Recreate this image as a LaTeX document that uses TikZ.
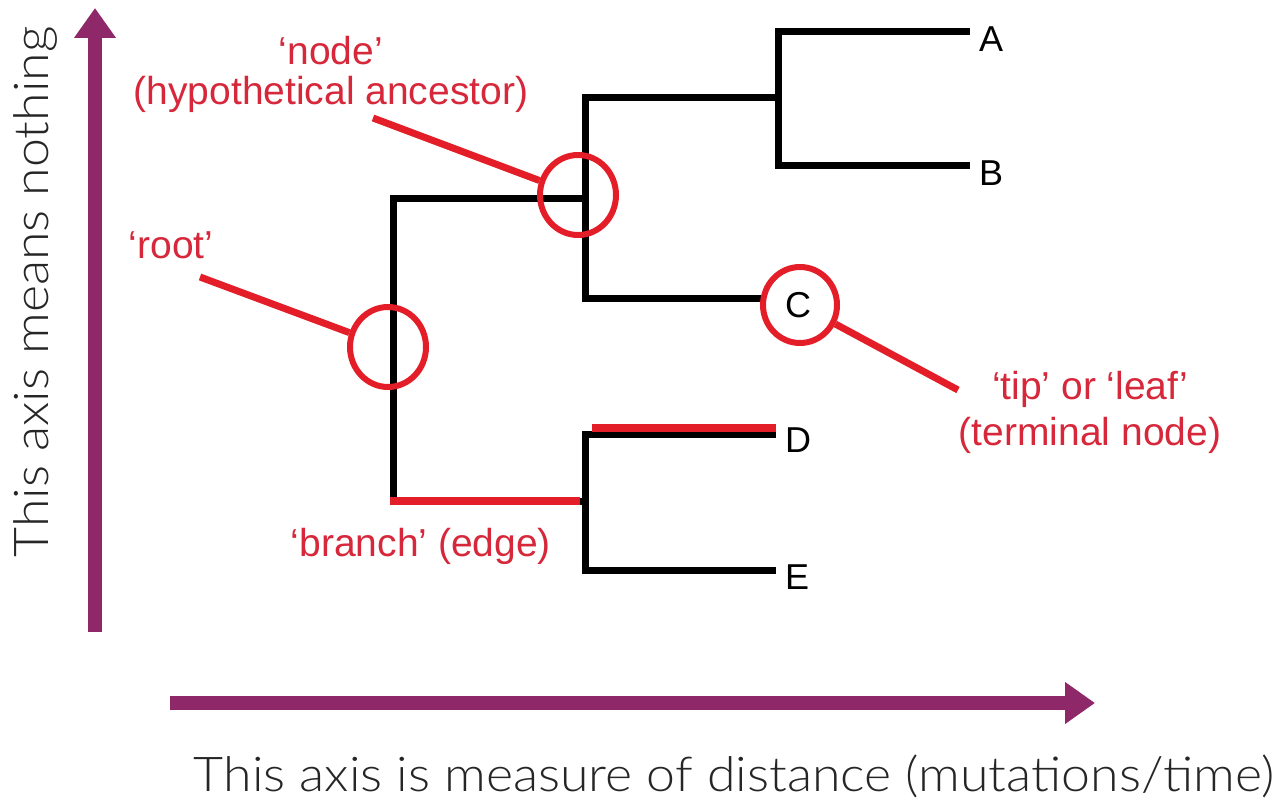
\documentclass[tikz,border=0pt]{standalone}
\usepackage{fontspec}
\setmainfont{Liberation Sans}
\newfontfamily\axisfont{Lato Light}[FakeStretch=1.08]
\usetikzlibrary{arrows.meta,shapes.geometric}
\definecolor{plum}{RGB}{142,40,104}
\definecolor{mark}{RGB}{228,30,40}
\definecolor{marktext}{RGB}{214,40,58}

\begin{document}
\begin{tikzpicture}[x=1pt,y=-1pt,
  br/.style={line width=7pt,line join=miter,line cap=butt,draw=black},%
  rb/.style={line width=8pt,draw=mark},%
  ring/.style={ellipse,draw=mark,line width=6pt,minimum width=76pt,minimum height=80pt},%
  callout/.style={line width=7pt,draw=mark},%
  lbl/.style={text=marktext,font=\fontsize{39}{40}\selectfont,align=center,inner sep=0pt},%
  leaf/.style={font=\fontsize{36}{37}\selectfont,anchor=north west,inner sep=0pt},%
  ax/.style={draw=plum,line width=14pt,-{Triangle[width=40pt,length=30pt]}},%
  axtext/.style={font=\axisfont\fontsize{48}{50}\selectfont,text=black!85,inner sep=0pt}
  ]
  \useasboundingbox (0,0) rectangle (1284,802);
  % axes
  \coordinate (yfoot) at (95,632);
  \coordinate (ytip) at (95,8);
  \coordinate (xfoot) at (170,703);
  \coordinate (xtip) at (1095,703);
  \draw [ax] (yfoot) -- (ytip);
  \draw [ax] (xfoot) -- (xtip);
  \node (ylab) [axtext,rotate=90] at (35,292) {This axis means nothing};
  \node (xlab) [axtext] at (734,776) {This axis is measure of distance (mutations/time)};
  % tree
  \coordinate (top) at (393,199);
  \coordinate (bot) at (393,501);
  \coordinate (n1) at (585,199);
  \coordinate (n2) at (778,98);
  \coordinate (n3) at (585,501);
  \coordinate (ta) at (970,32);
  \coordinate (tb) at (970,166);
  \coordinate (tc) at (766,298);
  \coordinate (td) at (776,434);
  \coordinate (te) at (776,570);
  \draw [br] (n1) -- (top) -- (bot) -- (n3);
  \draw [br] (n2) |- (ta);
  \draw [br] (n2) |- (tb);
  \draw [br] (n2) -- (585,98) |- (tc);
  \draw [br] (td) -| (n3) |- (te);
  \node (A) [leaf,xshift=9pt,yshift=5pt] at (ta) {A};
  \node (B) [leaf,xshift=9pt,yshift=5pt] at (tb) {B};
  \node (C) [leaf,xshift=19pt,yshift=6pt] at (tc) {C};
  \node (D) [leaf,xshift=9pt,yshift=6pt] at (td) {D};
  \node (E) [leaf,xshift=9pt,yshift=5pt] at (te) {E};
  % highlighted branches
  \coordinate (dl) at (592,428);
  \coordinate (dr) at (776,428);
  \draw [rb] (390,501) -- (580,501);
  \draw [rb] (dl) -- (dr);
  % rings and callouts
  \node (ringN) [ring] at (578,195) {};
  \node (ringR) [ring] at (388,347) {};
  \node (ringC) [ring,minimum width=74pt,minimum height=76pt] at (800,305) {};
  \coordinate (cn) at (373,118);
  \coordinate (cr) at (200,277);
  \coordinate (cc) at (958,390);
  \draw [callout] (cn) -- (ringN);
  \draw [callout] (cr) -- (ringR);
  \draw [callout] (cc) -- (ringC);
  \node (lblN) [lbl] at (331,74) {‘node’\\(hypothetical ancestor)};
  \node (lblR) [lbl] at (171,245) {‘root’};
  \node (lblC) [lbl,font=\fontsize{39}{46}\selectfont] at (1090,412) {‘tip’ or ‘leaf’\\(terminal node)};
  \node (lblB) [lbl] at (421,546) {‘branch’ (edge)};
\end{tikzpicture}
\end{document}
